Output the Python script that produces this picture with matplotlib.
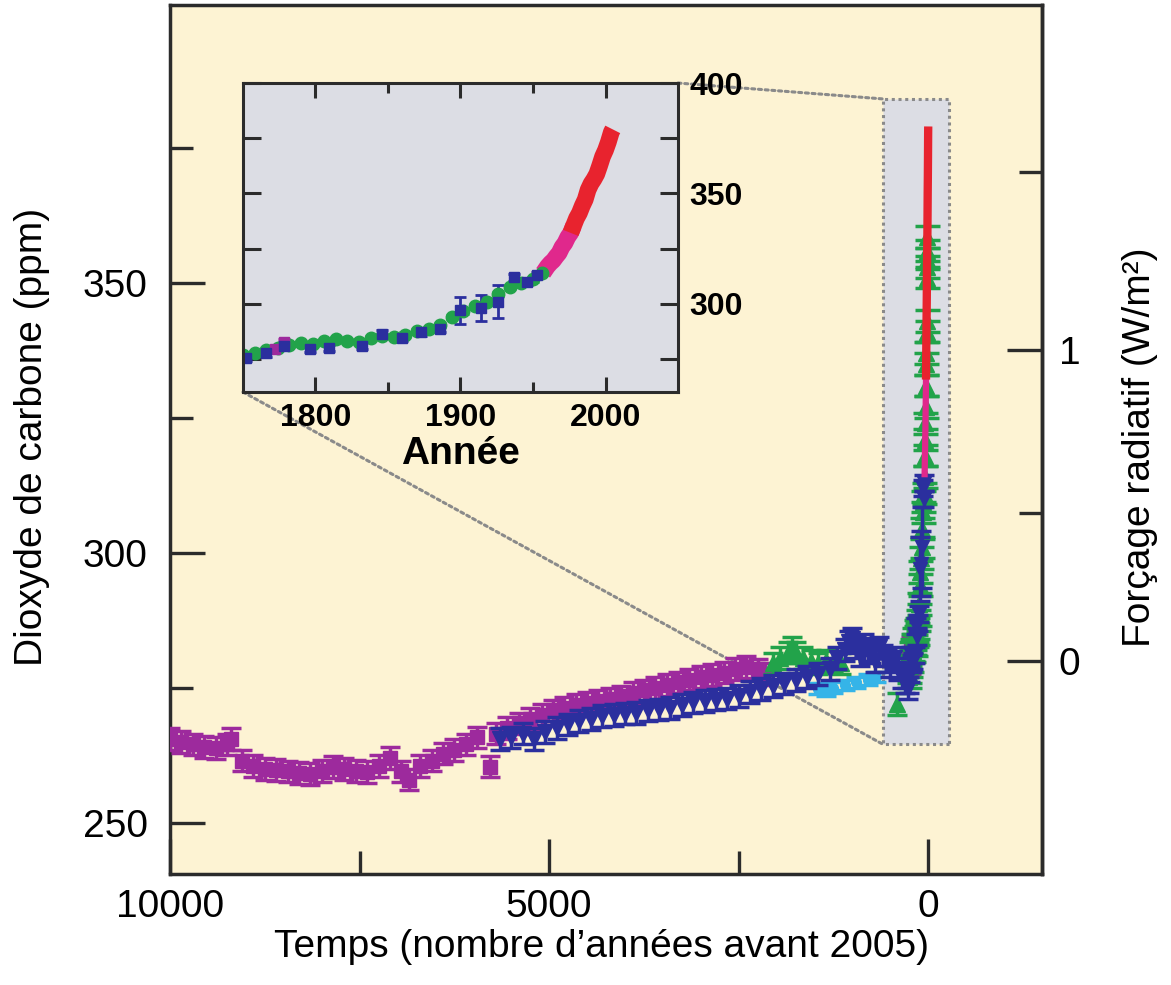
import numpy as np
import matplotlib.pyplot as plt
from matplotlib.patches import Rectangle, ConnectionPatch

plt.rcParams['font.family'] = ['Liberation Sans', 'DejaVu Sans']

# long ice-core records, years before 2005
purple_bp = [10000, 9850, 9700, 9550, 9400, 9250, 9200, 9050, 8900, 8750, 8600, 8450,
             8300, 8150, 8000, 7850, 7700, 7550, 7400, 7250, 7100, 6950, 6850, 6700,
             6550, 6400, 6250, 6100, 5950, 5780, 5700, 5550, 5400, 5250, 5100, 4950,
             4800, 4650, 4500, 4350, 4200, 4050, 3900, 3750, 3600, 3450, 3300, 3150,
             3000, 2850, 2700, 2550, 2400, 2250, 2150]
purple_ppm = [265.5, 265.0, 264.5, 264.0, 263.8, 264.5, 265.5, 261.5, 260.5, 260.0, 259.8, 259.5,
              259.2, 259.0, 259.6, 260.3, 260.0, 259.6, 259.4, 260.5, 262.0, 259.5, 258.0, 260.5,
              261.5, 262.8, 263.5, 264.5, 265.8, 260.4, 266.5, 267.5, 268.4, 269.2, 270.0, 270.8,
              271.2, 271.8, 272.2, 272.6, 273.0, 273.4, 274.0, 274.5, 275.0, 275.5, 276.0, 276.5,
              277.0, 277.4, 277.8, 278.5, 278.8, 278.4, 277.5]

blue_bp = [5650, 5500, 5350, 5200, 5050, 4900, 4750, 4600, 4450, 4300, 4150, 4000,
           3850, 3700, 3550, 3400, 3250, 3100, 2950, 2800, 2650, 2500, 2350, 2200,
           2050, 1900, 1750, 1600, 1450, 1300, 1200, 1100, 1050, 1000, 950, 900,
           850, 800, 750, 700, 650, 600, 550, 500, 450, 400, 350, 300, 270]
blue_ppm = [265.5, 265.8, 266.5, 265.5, 266.8, 267.5, 268.2, 268.8, 269.2, 269.8, 270.0, 270.2,
            270.3, 270.8, 271.0, 271.3, 271.8, 272.3, 272.6, 272.8, 273.0, 273.5, 274.2, 274.8,
            275.3, 275.8, 276.4, 277.0, 277.6, 278.5, 280.5, 282.0, 283.5, 284.0, 282.5, 281.0,
            283.0, 282.0, 281.5, 280.0, 282.5, 281.0, 280.0, 279.0, 280.5, 278.5, 277.0, 276.0, 275.0]

green_bp = [2050, 1950, 1850, 1800, 1750, 1650, 1550, 1450, 1350, 1250, 1150, 409]
green_ppm = [279.5, 280.5, 281.5, 282.5, 281.5, 280.5, 280.0, 279.5, 280.0, 279.8, 279.5, 272.0]

cyan_bp = [1450, 1350, 1250, 1100, 950, 800, 690]
cyan_ppm = [274.8, 274.5, 275.0, 275.5, 276.0, 276.5, 277.0]

# recent records, calendar years
green_ad = [1750, 1758, 1766, 1774, 1782, 1790, 1798, 1806, 1814, 1822, 1830, 1838,
            1846, 1854, 1862, 1870, 1878, 1886, 1894, 1902, 1910, 1918, 1926, 1934,
            1942, 1950, 1956, 1962, 1966, 1969, 1972, 1975, 1978, 1980, 1983, 1985,
            1989, 1990, 1991, 1992, 1993]
green_ad_ppm = [277.0, 277.8, 279.0, 280.0, 281.5, 282.0, 281.8, 283.0, 284.0, 283.0, 282.8, 284.5,
                285.5, 285.0, 286.0, 287.5, 288.5, 290.5, 294.0, 296.5, 299.0, 301.0, 304.5, 307.5,
                309.5, 311.0, 314.0, 318.0, 321.0, 324.0, 327.0, 331.0, 335.0, 337.0, 341.0, 343.0,
                351.0, 353.0, 354.5, 356.0, 358.5]

blue_ad = [1752, 1766, 1778, 1796, 1809, 1832, 1846, 1860, 1873, 1886, 1900, 1914,
           1926, 1937, 1946, 1953]
blue_ad_ppm = [275.5, 277.5, 281.0, 279.5, 280.0, 281.0, 286.4, 284.5, 287.0, 288.6, 297.0, 298.0,
               301.0, 312.0, 310.0, 313.0]
blue_ad_err = [1.5, 1.5, 1.5, 1.5, 1.5, 1.5, 1.5, 1.5, 1.5, 1.5, 6.0, 6.0,
               7.5, 1.5, 1.5, 1.5]

purple_ad = [1772, 1778]
purple_ad_ppm = [279.5, 282.5]

pink_ad = [1957, 1960, 1962, 1964, 1966, 1968, 1970, 1972, 1974, 1976, 1978]
pink_ppm = [314.0, 316.9, 318.4, 319.6, 321.4, 323.0, 325.7, 327.5, 330.2, 332.1, 335.4]

red_ad = [1976, 1978, 1980, 1982, 1984, 1986, 1988, 1990, 1992, 1994, 1996, 1998,
          2000, 2002, 2004, 2005]
red_ppm = [332.1, 335.4, 338.7, 341.1, 344.4, 347.2, 351.6, 354.4, 356.4, 358.8, 362.6, 366.7,
           369.6, 373.3, 377.7, 379.0]

C0 = 280.0  # ppm at zero forcing

CREAM = '#fdf3d3'
GRAY = '#dcdde4'
INK = '#2b2b2b'
PURPLE = '#9d2a9d'
BLUE = '#2b2f9e'
GREEN = '#22a34a'
CYAN = '#35b4e8'
PINK = '#e0288c'
RED = '#e8232e'
DOT = '#8a8a8a'


def bp(years_ad):
    return [2005 - y for y in years_ad]


fig = plt.figure(figsize=(11.71, 9.85), dpi=100)
ax = fig.add_axes([0.1452, 0.1127, 0.7446, 0.8822])
ax.set_facecolor(CREAM)

eb = dict(linestyle='none', capsize=7, elinewidth=2.5, capthick=2.5)
ax.errorbar(cyan_bp, cyan_ppm, yerr=1.0, fmt='o', color=CYAN, ms=7, zorder=2.5, **eb)
ax.errorbar(purple_bp, purple_ppm, yerr=2.0, fmt='s', color=PURPLE, ms=10, zorder=3, **eb)
ax.errorbar(bp(purple_ad), purple_ad_ppm, yerr=2.0, fmt='s', color=PURPLE, ms=10, zorder=3, **eb)
ax.errorbar(green_bp, green_ppm, yerr=2.0, fmt='^', color=GREEN, ms=12, zorder=3.5, **eb)
ax.errorbar(bp(green_ad), green_ad_ppm, yerr=2.0, fmt='^', color=GREEN, ms=11, zorder=3.5,
            linestyle='none', capsize=9, elinewidth=2.5, capthick=2.5)
ax.errorbar(blue_bp, blue_ppm, yerr=2.0, fmt='v', color=BLUE, ms=11, zorder=4, **eb)
ax.errorbar(bp(blue_ad), blue_ad_ppm, yerr=blue_ad_err, fmt='v', color=BLUE, ms=10, zorder=4, **eb)
ax.plot(bp(pink_ad), pink_ppm, color=PINK, lw=4.5, solid_capstyle='butt', zorder=5)
ax.plot(bp(red_ad), red_ppm, color=RED, lw=6, solid_capstyle='butt', zorder=6)

# zoom frame around the industrial era
ax.add_patch(Rectangle((-277, 264.5), 871, 119.6, facecolor=GRAY, edgecolor=DOT,
                       lw=2.2, linestyle=(0, (1, 1.2)), zorder=1))

ax.set_xlim(10000, -1500)
ax.set_ylim(240.5, 401.5)
ax.set_xticks([10000, 5000, 0])
ax.set_xticks([7500, 2500], minor=True)
ax.set_yticks([250, 300, 350])
ax.set_yticks([275, 325, 375], minor=True)
ax.tick_params(which='both', direction='in', color=INK, width=2.4, labelsize=28,
               top=False, right=False)
ax.tick_params(which='major', length=25)
ax.tick_params(which='minor', length=16.5)
ax.tick_params(axis='y', pad=16)
ax.tick_params(axis='x', pad=11)
for s in ax.spines.values():
    s.set_linewidth(2.5)
    s.set_color(INK)

sec = ax.secondary_yaxis('right', functions=(lambda c: 5.35 * np.log(np.clip(c, 1, None) / C0),
                                             lambda f: C0 * np.exp(f / 5.35)))
sec.set_yticks([0, 1])
sec.set_yticks([0.5, 1.5], minor=True)
sec.tick_params(which='both', direction='in', color=INK, width=2.4, labelsize=28, pad=12)
sec.tick_params(which='major', length=25)
sec.tick_params(which='minor', length=16.5)
sec.spines['right'].set_linewidth(2.5)
sec.spines['right'].set_color(INK)

fig.text(32 / 1171, 1 - 437 / 985, 'Dioxyde de carbone (ppm)', rotation=90,
         ha='center', va='center', fontsize=28)
fig.text(1140 / 1171, 1 - 447 / 985, 'Forçage radiatif (W/m²)', rotation=90,
         ha='center', va='center', fontsize=28)
fig.text(601 / 1171, 1 - 947 / 985, 'Temps (nombre d’années avant 2005)',
         ha='center', va='center', fontsize=28)

# inset: last 250 years
axin = fig.add_axes([0.2075, 0.6020, 0.3715, 0.3137])
axin.set_facecolor(GRAY)
ebi = dict(linestyle='none', capsize=4, elinewidth=2, capthick=2)
inset_green = [(y, c) for y, c in zip(green_ad, green_ad_ppm) if y < 1960]
axin.errorbar([g[0] for g in inset_green], [g[1] for g in inset_green], yerr=1.0,
              fmt='o', color=GREEN, ms=9, **ebi)
axin.errorbar(purple_ad, purple_ad_ppm, yerr=1.5, fmt='s', color=PURPLE, ms=7, **ebi)
axin.errorbar(blue_ad, blue_ad_ppm, yerr=blue_ad_err, fmt='s', color=BLUE, ms=7, **ebi)
axin.plot(pink_ad, pink_ppm, color=PINK, lw=12, solid_capstyle='butt')
axin.plot(red_ad, red_ppm, color=RED, lw=12, solid_capstyle='butt')

axin.set_xlim(1750, 2050)
axin.set_ylim(260, 400)
axin.set_xticks([1800, 1900, 2000])
axin.set_xticks([1850, 1950], minor=True)
axin.set_yticks([300, 350, 400])
axin.set_yticks([275, 325, 375], minor=True)
axin.tick_params(which='both', direction='in', color=INK, width=2.2, labelsize=23,
                 top=True, bottom=True, left=True, right=True,
                 labelleft=False, labelright=True, pad=8)
axin.tick_params(axis='x', which='major', length=11)
axin.tick_params(axis='x', which='minor', length=7)
axin.tick_params(axis='y', which='both', length=13)
for lab in axin.get_xticklabels() + axin.get_yticklabels():
    lab.set_fontweight('bold')
axin.set_xlabel('Année', fontsize=28, fontweight='bold', labelpad=2)
for s in axin.spines.values():
    s.set_linewidth(2.2)
    s.set_color(INK)

for xa, xb in [((1, 1), (594, 384.1)), ((0, 0), (594, 264.5))]:
    con = ConnectionPatch(xyA=xa, coordsA='axes fraction', axesA=axin,
                          xyB=xb, coordsB='data', axesB=ax,
                          color=DOT, lw=2.2, linestyle=(0, (1, 1.2)), zorder=1.5)
    ax.add_artist(con)

fig.savefig('out.png', dpi=100, facecolor='white')
